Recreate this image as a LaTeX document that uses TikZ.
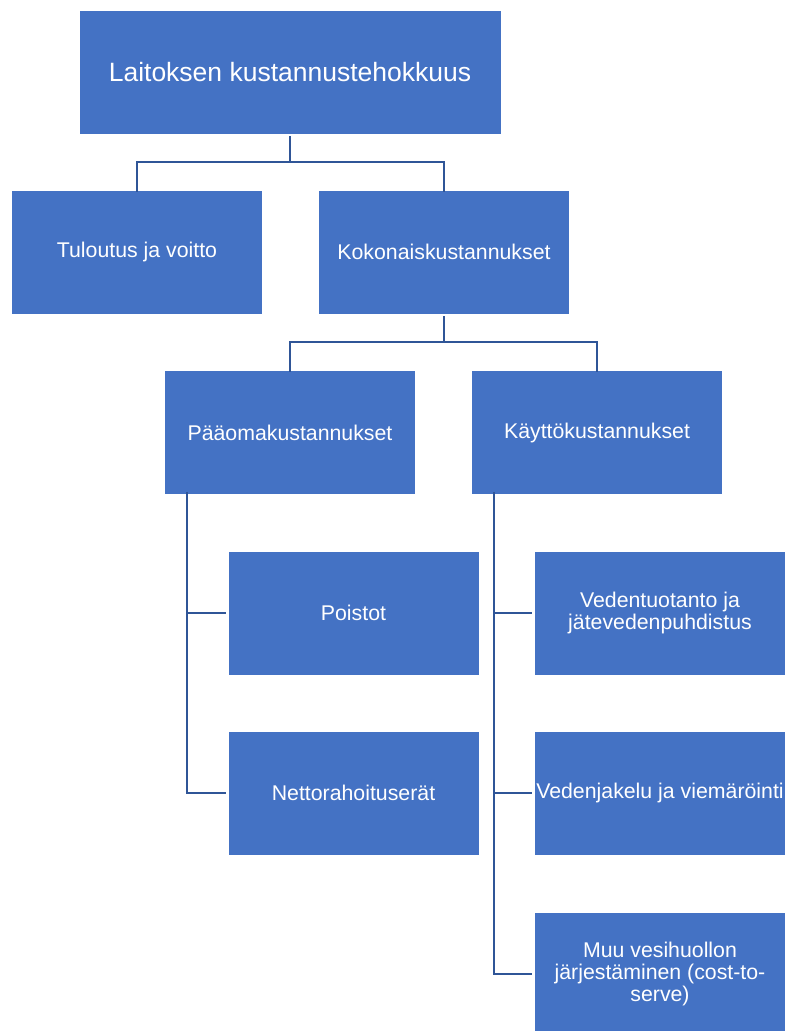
\documentclass[tikz,border=0pt]{standalone}
\usepackage{fontspec}
\setmainfont{Liberation Sans}
\definecolor{boxblue}{HTML}{4472C4}
\definecolor{lineblue}{HTML}{2F5597}
\begin{document}
\begin{tikzpicture}[
			x=1pt,y=-1pt,
			box/.style={rectangle,fill=boxblue,draw=white,line width=0.6pt,text=white,
				minimum width=251pt,minimum height=124pt,inner sep=0pt,align=center,
				font=\fontsize{21.3}{21.6}\selectfont},
			topbox/.style={box,minimum width=422pt,font=\fontsize{26.5}{30}\selectfont},
			conn/.style={draw=lineblue,line width=2.2pt}
		]
		\useasboundingbox (0,0) rectangle (787,1031);
		\node[topbox] (top) at (290,72) {Laitoksen kustannustehokkuus};
		\node[box] (tulo) at (137,252) {Tuloutus ja voitto};
		\node[box] (koko) at (444,252) {Kokonaiskustannukset};
		\node[box] (paa) at (290,432.5) {Pääomakustannukset};
		\node[box] (kay) at (597,432.5) {Käyttökustannukset};
		\node[box] (poi) at (353.5,613) {Poistot};
		\node[box] (net) at (353.5,793) {Nettorahoituserät};
		\node[box] (ved) at (660,613) {Vedentuotanto ja\\jätevedenpuhdistus};
		\node[box] (jak) at (660,793) {Vedenjakelu ja viemäröinti};
		\node[box] (muu) at (660,974) {Muu vesihuollon\\järjestäminen (cost-to-\\serve)};
		\coordinate (pline) at ([xshift=23,yshift=3]paa.south west);
		\coordinate (kline) at ([xshift=23,yshift=3]kay.south west);
		\draw[conn] (top.south) ++(0,2) -- ++(0,26) -| ([yshift=-2]tulo.north);
		\draw[conn] (top.south) ++(0,28) -| ([yshift=-2]koko.north);
		\draw[conn] (koko.south) ++(0,2) -- ++(0,26) -| ([yshift=-2]paa.north);
		\draw[conn] (koko.south) ++(0,28) -| ([yshift=-2]kay.north);
		\draw[conn] (pline) |- ([xshift=-2]net.west);
		\draw[conn] (poi.west -| pline) -- ([xshift=-2]poi.west);
		\draw[conn] (kline) |- ([xshift=-2]muu.west);
		\draw[conn] (ved.west -| kline) -- ([xshift=-2]ved.west);
		\draw[conn] (jak.west -| kline) -- ([xshift=-2]jak.west);
	\end{tikzpicture}
\end{document}
